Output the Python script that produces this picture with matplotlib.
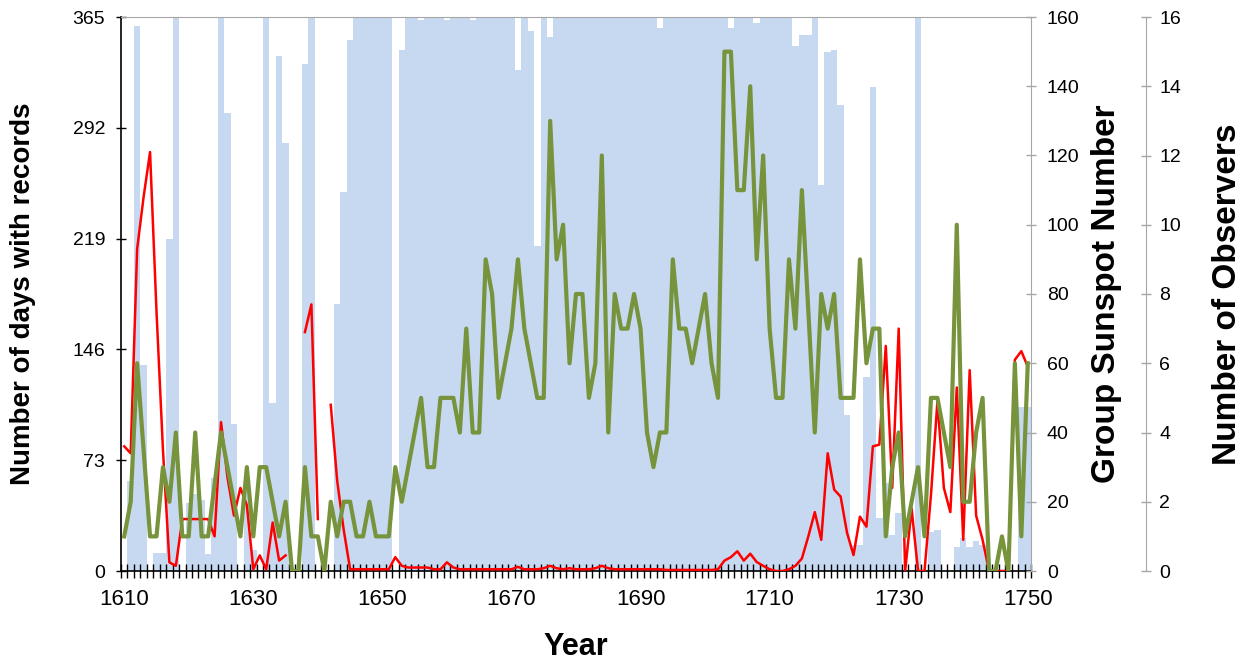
import numpy as np
import matplotlib.pyplot as plt

plt.rcParams['font.family'] = ['Liberation Sans', 'DejaVu Sans']

# category axis: one value per year
years = list(range(1610, 1751))

# number of days with records (bars, left axis)
days = [
    0, 59, 359, 136, 0, 12, 12, 219, 365, 0,            # 1610s
    45, 51, 47, 11, 61, 365, 302, 97, 0, 62,            # 1620s
    14, 0, 365, 111, 339, 282, 0, 0, 334, 365,          # 1630s
    0, 0, 0, 176, 250, 350, 365, 365, 365, 365,         # 1640s
    365, 365, 0, 343, 365, 365, 363, 365, 365, 365,     # 1650s
    363, 365, 365, 365, 363, 365, 365, 365, 365, 365,   # 1660s
    365, 330, 365, 356, 214, 365, 352, 365, 365, 365,   # 1670s
    365, 365, 365, 365, 365, 365, 365, 365, 365, 365,   # 1680s
    365, 365, 365, 358, 365, 365, 365, 365, 365, 365,   # 1690s
    365, 365, 365, 365, 358, 365, 365, 365, 361, 365,   # 1700s
    365, 365, 365, 365, 346, 353, 353, 365, 254, 342,   # 1710s
    343, 307, 103, 17, 17, 128, 319, 35, 58, 24,        # 1720s
    38, 0, 0, 365, 0, 26, 27, 0, 0, 16,                 # 1730s
    22, 16, 20, 17, 0, 0, 0, 0, 0, 108,                 # 1740s
    108,                                                # 1750
]

# group sunspot number (red line, first right axis), nan = no data
nan = np.nan
ssn = [
    36, 34, 93, 108, 121, 75, 35, 2.5, 1.5, 15,
    15, 15, 15, 15, 10, 43, 27, 16, 24, 19,
    0.5, 4.5, 0.5, 14, 3, 4.5, nan, nan, 69, 77,
    15, nan, 48, 26, 12, 0.5, 0.5, 0.5, 0.5, 0.5,
    0.5, 0.5, 4, 1.5, 1, 1, 1, 1, 0.5, 0.5,
    2.5, 1, 0.5, 0.5, 0.5, 0.5, 0.5, 0.5, 0.5, 0.5,
    0.5, 1.2, 0.5, 0.5, 0.5, 0.8, 1.5, 0.8, 0.5, 0.8,
    0.5, 0.5, 0.5, 0.8, 1.5, 0.8, 0.5, 0.5, 0.5, 0.5,
    0.5, 0.5, 0.5, 0.5, 0.3, 0.3, 0.3, 0.3, 0.3, 0.3,
    0.3, 0.3, 0.5, 3, 4, 5.7, 3, 5, 2.6, 1.5,
    0.5, 0, 0, 0.5, 1.5, 3.6, 10, 17, 9, 34,
    23.5, 21.5, 11, 4.6, 15.7, 12.8, 36, 36.5, 65, 24,
    70, 0, 18, 0, 0, 22, 49, 24, 17, 53,
    9, 58, 16, 9, 0, 0, 0, 0, 61, 63.5,
    59,
]

# number of observers (green line, second right axis)
observers = [
    1, 2, 6, 3.5, 1, 1, 3, 2, 4, 1,
    1, 4, 1, 1, 2.5, 4, 3, 2, 1, 3,
    1, 3, 3, 2, 1, 2, 0, 0, 3, 1,
    1, 0, 2, 1, 2, 2, 1, 1, 2, 1,
    1, 1, 3, 2, 3, 4, 5, 3, 3, 5,
    5, 5, 4, 7, 4, 4, 9, 8, 5, 6,
    7, 9, 7, 6, 5, 5, 13, 9, 10, 6,
    8, 8, 5, 6, 12, 4, 8, 7, 7, 8,
    7, 4, 3, 4, 4, 9, 7, 7, 6, 7,
    8, 6, 5, 15, 15, 11, 11, 14, 9, 12,
    7, 5, 5, 9, 7, 11, 7.5, 4, 8, 7,
    8, 5, 5, 5, 9, 6, 7, 7, 1, 3,
    4, 1, 2, 3, 1, 5, 5, 4, 3, 10,
    2, 2, 4, 5, 0, 0, 1, 0, 6, 1,
    6,
]

day_ticks = [0, 73, 146, 219, 292, 365]
ssn_ticks = [0, 20, 40, 60, 80, 100, 120, 140, 160]
obs_ticks = [0, 2, 4, 6, 8, 10, 12, 14, 16]
year_labels = [1610, 1630, 1650, 1670, 1690, 1710, 1730, 1750]

W, H = 1242, 661
fig = plt.figure(figsize=(W / 100, H / 100), dpi=100)
ax1 = fig.add_axes([121 / W, 1 - 571 / H, 910 / W, (571 - 17) / H])

ax1.bar(years, days, width=1.0, color='#C6D9F1', linewidth=0, zorder=1)
ax1.set_xlim(1609.5, 1750.5)
ax1.set_ylim(0, 365)
ax1.set_yticks(day_ticks)
ax1.set_ylabel('Number of days with records', fontsize=20, fontweight='bold', labelpad=26)
ax1.set_xlabel('Year', fontsize=22, fontweight='bold', labelpad=16)

ax1.set_xticks(year_labels)
ax1.set_xticks(np.arange(1609.5, 1751, 1.0), minor=True)
ax1.tick_params(axis='x', which='major', length=0, pad=13, labelsize=16)
ax1.tick_params(axis='x', which='minor', direction='inout', length=10, width=1, color='black')
ax1.tick_params(axis='y', direction='inout', length=7, width=1, color='black', labelsize=14, pad=8)

ax1.spines['left'].set_color('black')
ax1.spines['bottom'].set_color('black')
ax1.spines['left'].set_linewidth(1.2)
ax1.spines['bottom'].set_linewidth(1.2)
ax1.spines['top'].set_color('#A6A6A6')
ax1.spines['right'].set_visible(False)

ax2 = ax1.twinx()
ax2.plot(years, ssn, color='#FF0000', linewidth=1.8, solid_joinstyle='round', zorder=3)
ax2.set_ylim(0, 160)
ax2.set_yticks(ssn_ticks)
ax2.set_ylabel('Group Sunspot Number', fontsize=24, fontweight='bold', labelpad=8)
ax2.tick_params(axis='y', direction='inout', length=7, width=1, color='#A6A6A6', labelsize=14, pad=8)
for s in ['left', 'top', 'bottom']:
    ax2.spines[s].set_visible(False)
ax2.spines['right'].set_color('#A6A6A6')

ax3 = ax1.twinx()
ax3.plot(years, observers, color='#77933C', linewidth=3.0, solid_joinstyle='round', zorder=4)
ax3.set_ylim(0, 16)
ax3.set_yticks(obs_ticks)
ax3.set_ylabel('Number of Observers', fontsize=24, fontweight='bold', labelpad=22)
ax3.spines['right'].set_position(('axes', (1146 - 121) / 910))
ax3.tick_params(axis='y', direction='inout', length=7, width=1, color='#A6A6A6', labelsize=14, pad=6)
for s in ['left', 'top', 'bottom']:
    ax3.spines[s].set_visible(False)
ax3.spines['right'].set_color('#A6A6A6')

fig.savefig('out.png', dpi=100)
